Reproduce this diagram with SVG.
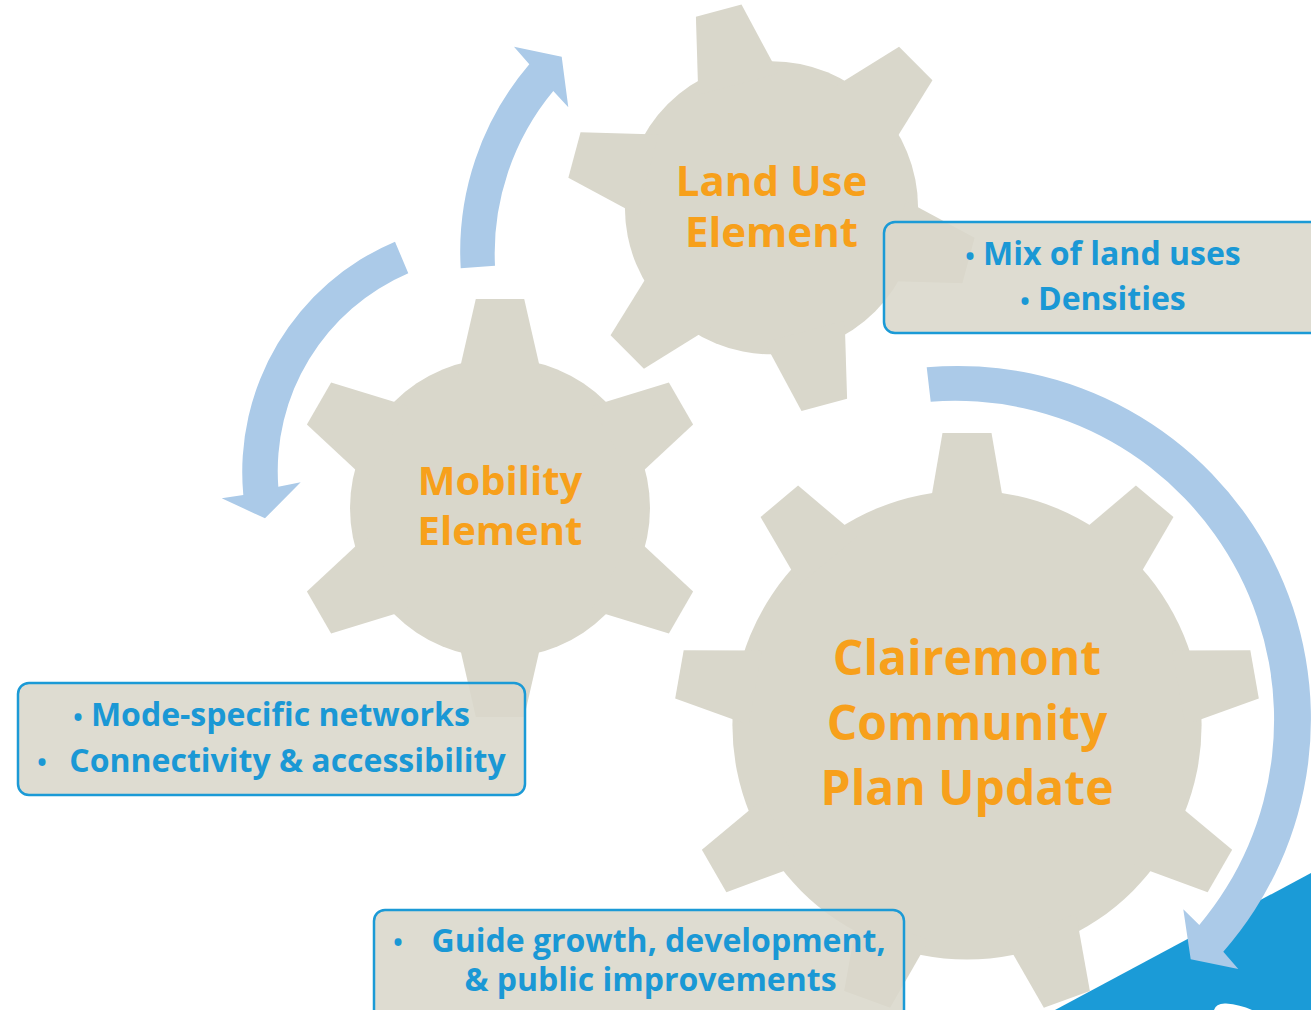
<svg xmlns="http://www.w3.org/2000/svg" width="1311" height="1010" viewBox="0 0 1311 1010">
<style>
.gear{fill:#d9d7cb}
.ttl{font-family:"Open Sans","Liberation Sans",sans-serif;font-weight:700;fill:#f7a01b;text-anchor:middle}
.box{fill:#d9d7cb;fill-opacity:.88;stroke:#1b9ad6;stroke-width:2.5}
.bt{font-family:"Open Sans","Liberation Sans",sans-serif;font-weight:700;font-size:32px;fill:#1a98d5;text-anchor:middle}
.bl{font-size:25px}
.arr{fill:#abcae8}
</style>
<defs>
<polygon id="tA" points="-41.5,-128 41.5,-128 23.6,-204 -23.6,-204"/>
<polygon id="tB" points="-42.3,-130 42.3,-130 24.2,-209 -24.2,-209"/>
<polygon id="tC" points="-37.8,-215 37.8,-215 24.5,-292 -24.5,-292"/>
</defs>
<rect width="1311" height="1010" fill="#ffffff"/>
<polygon points="1055,1010 1311,873 1311,1010" fill="#1b9bd7"/>
<path d="M1214,1010 Q1216,1003 1226,1003.5 Q1240,1004.5 1252,1010 Z" fill="#ffffff"/>

<g id="connectors">
<path class="arr" d="M460.7,268.3 A288,288 0 0 1 529.3,64.3 L514,46.7 L561.7,56.7 L568.3,107.3 L553.3,91 A254,254 0 0 0 495,265.7 Z"/>
<path class="arr" d="M395,241.7 A250,250 0 0 0 243.3,495 L221.7,498.3 L265,518.3 L300.7,482.3 L278.3,486.7 A215,215 0 0 1 408.3,273.3 Z"/>
<path class="arr" d="M926.7,367.3 A353,353 0 0 1 1223.3,951.7 L1238.3,969 L1190.7,959.3 L1183.3,909.3 L1199.3,925 A319,319 0 0 0 930.7,401.7 Z"/>
</g>

<g id="land-use">
<g class="gear" transform="translate(771.5,207.75)">
<circle r="146.6"/>
<use href="#tA" transform="rotate(-15)"/>
<use href="#tA" transform="rotate(45)"/>
<use href="#tA" transform="rotate(105)"/>
<use href="#tA" transform="rotate(165)"/>
<use href="#tA" transform="rotate(225)"/>
<use href="#tA" transform="rotate(285)"/>
</g>
<text class="ttl" font-size="42" x="771.5" y="196">Land Use</text>
<text class="ttl" font-size="42" x="771.5" y="247">Element</text>
</g>

<g id="mobility">
<g class="gear" transform="translate(500,508)">
<circle r="150"/>
<use href="#tB" transform="rotate(0)"/>
<use href="#tB" transform="rotate(60)"/>
<use href="#tB" transform="rotate(120)"/>
<use href="#tB" transform="rotate(180)"/>
<use href="#tB" transform="rotate(240)"/>
<use href="#tB" transform="rotate(300)"/>
</g>
<text class="ttl" font-size="40" x="500" y="495">Mobility</text>
<text class="ttl" font-size="40" x="500" y="545">Element</text>
</g>

<g id="clairemont">
<g class="gear" transform="translate(967,725)">
<circle r="234.6"/>
<use href="#tC" transform="rotate(0)"/>
<use href="#tC" transform="rotate(40)"/>
<use href="#tC" transform="rotate(80)"/>
<use href="#tC" transform="rotate(120)"/>
<use href="#tC" transform="rotate(160)"/>
<use href="#tC" transform="rotate(200)"/>
<use href="#tC" transform="rotate(240)"/>
<use href="#tC" transform="rotate(280)"/>
<use href="#tC" transform="rotate(320)"/>
</g>
<text class="ttl" font-size="48" x="967" y="675">Clairemont</text>
<text class="ttl" font-size="48" x="967" y="740">Community</text>
<text class="ttl" font-size="48" x="967" y="805">Plan Update</text>
</g>

<g id="land-use-notes">
<rect class="box" x="884" y="222" width="470" height="111" rx="11"/>
<text class="bt" x="1103" y="264.5"><tspan class="bl">•</tspan> Mix of land uses</text>
<text class="bt" x="1103" y="309.5"><tspan class="bl">•</tspan> Densities</text>
</g>

<g id="mobility-notes">
<rect class="box" x="18" y="683" width="507" height="112" rx="11"/>
<text class="bt" x="271.5" y="726"><tspan class="bl">•</tspan> Mode-specific networks</text>
<text class="bt bl" x="42" y="771">•</text>
<text class="bt" x="287.5" y="772">Connectivity &amp; accessibility</text>
</g>

<g id="plan-notes">
<rect class="box" x="374" y="910" width="530" height="130" rx="11"/>
<text class="bt bl" x="398" y="951">•</text>
<text class="bt" x="658.5" y="952">Guide growth, development,</text>
<text class="bt" x="650.5" y="991">&amp; public improvements</text>
</g>
</svg>
